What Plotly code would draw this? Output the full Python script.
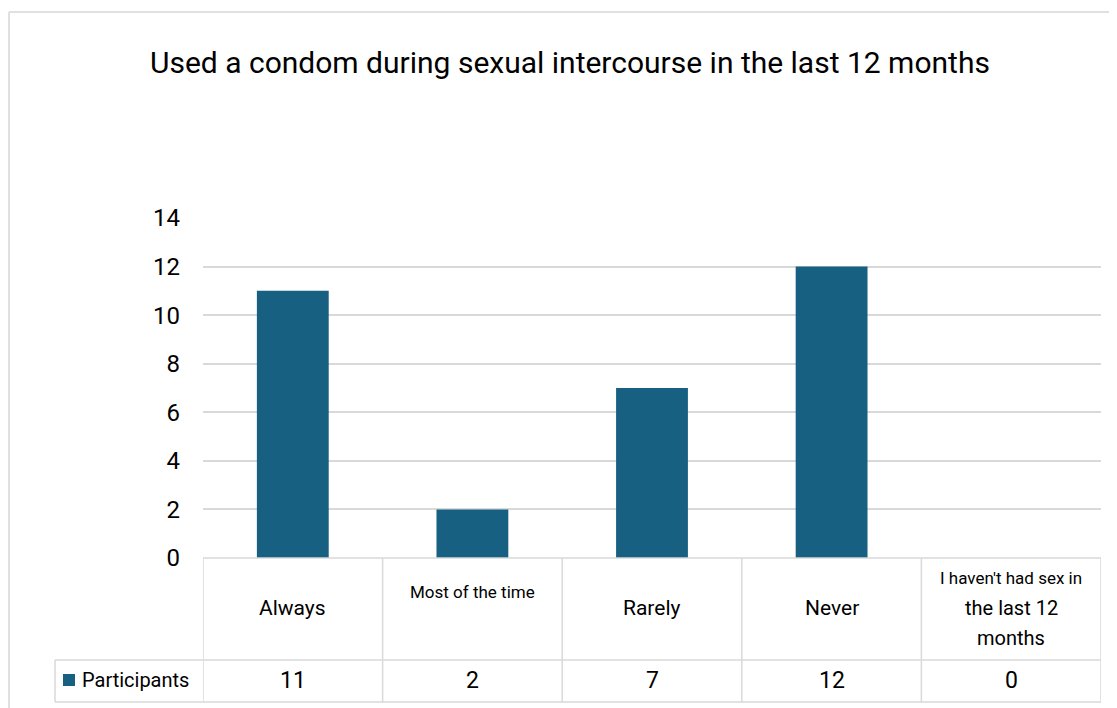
import plotly.graph_objects as go

categories = ["Always", "Most of the time", "Rarely", "Never", "I haven't had sex in the last 12 months"]
participants = [11, 2, 7, 12, 0]
series_name = "Participants"
title_text = "Used a condom during sexual intercourse in the last 12 months"
y_ticks = [0, 2, 4, 6, 8, 10, 12, 14]

BAR = "#176082"
GRID = "#d9d9d9"
FONT = "Roboto"

OFF = 8  # default page body margin
W, H = 1117 - OFF, 708 - OFF
L, R, T, B = 203, 1101, 218, 558  # plot area in page pixels
ph = B - T
pw = R - L

def py(pix):
    return (B - pix) / ph

def px(pix):
    return (pix - L) / pw

fig = go.Figure()
fig.add_trace(go.Bar(x=list(range(len(categories))), y=participants, name=series_name,
                     marker=dict(color=BAR, line=dict(width=0)), width=0.4,
                     showlegend=False))

shapes = []
line = dict(color=GRID, width=1.5)
# outer chart border
shapes.append(dict(type="line", xref="paper", yref="paper", x0=px(9), x1=px(1117), y0=py(12), y1=py(12),
                   line=dict(color="#e0e0e0", width=2)))
shapes.append(dict(type="line", xref="paper", yref="paper", x0=px(9), x1=px(9), y0=py(12), y1=py(708),
                   line=dict(color="#e0e0e0", width=2)))
# table
ytop, ymid, ybot = py(B), py(660), py(702)
xleft = px(55)
shapes.append(dict(type="line", xref="paper", yref="paper", x0=0, x1=1, y0=ytop, y1=ytop, line=line))
shapes.append(dict(type="line", xref="paper", yref="paper", x0=xleft, x1=1, y0=ymid, y1=ymid, line=line))
shapes.append(dict(type="line", xref="paper", yref="paper", x0=xleft, x1=1, y0=ybot, y1=ybot, line=line))
shapes.append(dict(type="line", xref="paper", yref="paper", x0=xleft, x1=xleft, y0=ymid, y1=ybot, line=line))
for i in range(len(categories) + 1):
    xv = i - 0.5
    shapes.append(dict(type="line", xref="x", yref="paper", x0=xv, x1=xv, y0=ytop, y1=ybot, line=line))
# legend key
shapes.append(dict(type="rect", xref="paper", yref="paper", x0=px(63), x1=px(75), y0=py(686), y1=py(674),
                   fillcolor=BAR, line=dict(width=0)))

annotations = []

def ann(x, y, text, size, xref="x", xanchor="center"):
    annotations.append(dict(x=x, y=y, xref=xref, yref="paper", text=text, showarrow=False,
                            xanchor=xanchor, yanchor="middle",
                            font=dict(family=FONT, size=size, color="#000")))

for i, c in enumerate(categories):
    if c == "Most of the time":
        ann(i, py(592), c, 17)
    elif c.startswith("I haven't"):
        ann(i, py(578), "I haven't had sex in", 17)
        ann(i, py(608), "the last 12", 20)
        ann(i, py(638), "months", 20)
    else:
        ann(i, py(608), c, 21)
    ann(i, py(680), str(participants[i]), 23)
ann(px(80), py(680), series_name, 20, xref="paper", xanchor="left")
ann(px(570), py(62), title_text, 30, xref="paper")

fig.update_layout(
    width=W, height=H,
    margin=dict(l=L - OFF, r=1117 - R, t=T - OFF, b=708 - B, pad=0),
    paper_bgcolor="white", plot_bgcolor="white",
    xaxis=dict(range=[-0.5, len(categories) - 0.5], showticklabels=False, showgrid=False,
               zeroline=False, showline=False, ticks=""),
    yaxis=dict(range=[0, 14], tickvals=y_ticks, showgrid=True, gridcolor=GRID, gridwidth=1.5,
               zeroline=False, showline=False, ticks="", ticklabelstandoff=22,
               tickfont=dict(family=FONT, size=24, color="#000")),
    shapes=shapes, annotations=annotations,
    bargap=0.6,
)
fig.write_html("out.html")
